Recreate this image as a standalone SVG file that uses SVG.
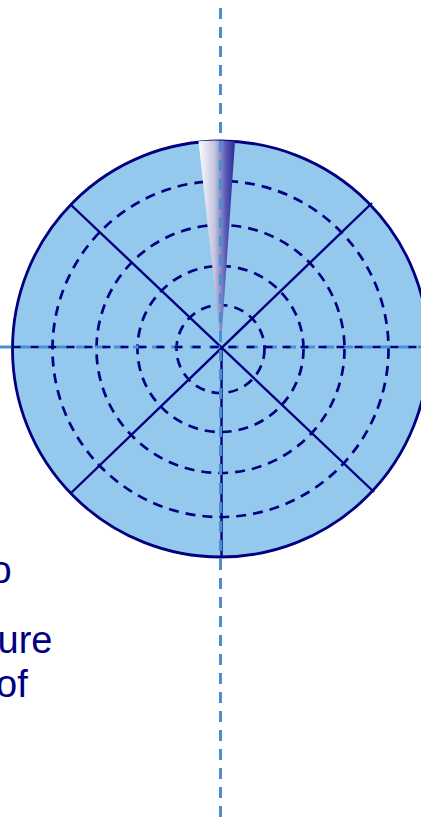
<svg xmlns="http://www.w3.org/2000/svg" width="421" height="817" viewBox="0 0 421 817">
  <defs>
    <linearGradient id="wedgeGrad" x1="198" y1="0" x2="235" y2="0" gradientUnits="userSpaceOnUse">
      <stop offset="0" stop-color="#ffffff"/>
      <stop offset="0.45" stop-color="#c4c4e0"/>
      <stop offset="0.75" stop-color="#5a5ab4"/>
      <stop offset="1" stop-color="#2a2a9c"/>
    </linearGradient>
    <style>
      .disk { fill: #94c8ec; stroke: #000080; stroke-width: 2.8; }
      .ring { fill: none; stroke: #000080; stroke-width: 2.7; stroke-dasharray: 10 7; }
      .spoke { stroke: #000080; stroke-width: 2.4; fill: none; }
      .axis { stroke: #4a8fd2; stroke-width: 3; stroke-dasharray: 11 8; fill: none; }
      .label { font-family: "Liberation Sans", Arial, sans-serif; font-size: 38px; fill: #000080; }
    </style>
  </defs>

  <g id="disk">
    <circle class="disk" cx="220.5" cy="349" r="208"/>
  </g>

  <g id="rings">
    <circle class="ring" cx="220.5" cy="349" r="44"/>
    <circle class="ring" cx="220.5" cy="349" r="83"/>
    <circle class="ring" cx="220.5" cy="349" r="124"/>
    <circle class="ring" cx="220.5" cy="349" r="168"/>
  </g>

  <g id="wedge">
    <path d="M198.5,141.3 A208,208 0 0 1 235,141.5 L221,345 Z" fill="url(#wedgeGrad)"/>
  </g>

  <g id="connectors">
    <line class="spoke" x1="70" y1="204" x2="374" y2="492"/>
    <line class="spoke" x1="372" y1="203" x2="70" y2="494"/>
    <line class="spoke" x1="221.5" y1="349" x2="221.5" y2="557"/>
    <line class="axis" x1="220.5" y1="8" x2="220.5" y2="817"/>
    <line class="axis" x1="0" y1="347" x2="421" y2="347"/>
    <line class="spoke" x1="12.5" y1="347" x2="421" y2="347" stroke-dasharray="8 10"/>
  </g>

  <g id="labels">
    <text class="label" x="-9.6" y="583">o</text>
    <text class="label" x="-2.5" y="653">ure</text>
    <text class="label" x="-4" y="697">of</text>
  </g>
</svg>
